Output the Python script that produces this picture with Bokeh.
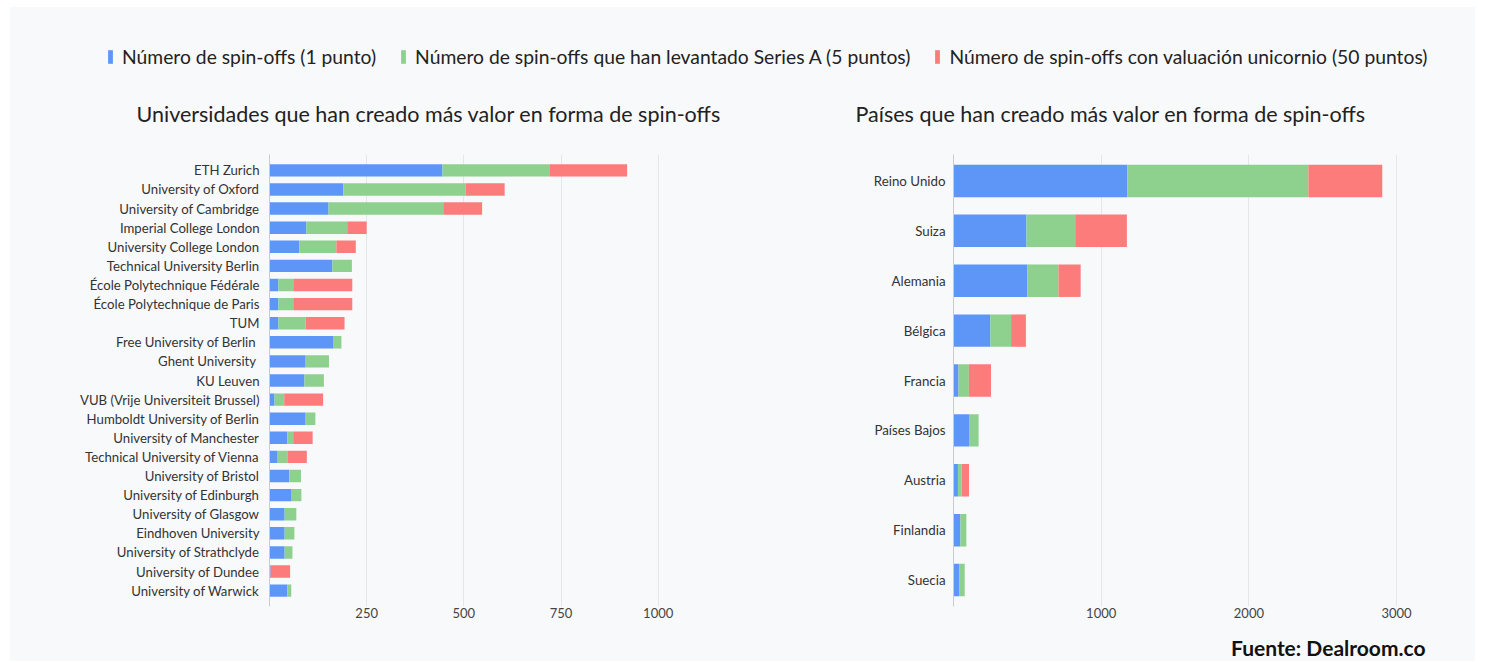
from bokeh.plotting import figure
from bokeh.models import (ColumnDataSource, FactorRange, Range1d, FixedTicker, Label,
                          Legend, LegendItem)
from bokeh.layouts import column, row
from bokeh.embed import file_html
from bokeh.resources import INLINE

# ---------------- data ----------------
series_labels = ["Número de spin-offs (1 punto)",
                 "Número de spin-offs que han levantado Series A (5 puntos)",
                 "Número de spin-offs con valuación unicornio (50 puntos)"]

unis = ["ETH Zurich", "University of Oxford", "University of Cambridge",
        "Imperial College London", "University College London",
        "Technical University Berlin", "École Polytechnique Fédérale",
        "École Polytechnique de Paris", "TUM", "Free University of Berlin ",
        "Ghent University ", "KU Leuven", "VUB (Vrije Universiteit Brussel)",
        "Humboldt University of Berlin", "University of Manchester",
        "Technical University of Vienna", "University of Bristol",
        "University of Edinburgh", "University of Glasgow", "Eindhoven University",
        "University of Strathclyde", "University of Dundee", "University of Warwick"]
uni_spinoffs = [445, 190, 152, 95, 77, 162, 23, 23, 23, 165, 93, 90, 13, 93, 46, 21,
                51, 57, 39, 39, 39, 3, 46]
uni_series_a = [275, 315, 295, 105, 95, 50, 40, 40, 70, 20, 60, 50, 25, 25, 15, 25,
                30, 25, 30, 25, 20, 0, 10]
uni_unicorn = [200, 100, 100, 50, 50, 0, 150, 150, 100, 0, 0, 0, 100, 0, 50, 50,
               0, 0, 0, 0, 0, 50, 0]

countries = ["Reino Unido", "Suiza", "Alemania", "Bélgica", "Francia",
             "Países Bajos", "Austria", "Finlandia", "Suecia"]
c_spinoffs = [1178, 494, 501, 250, 34, 105, 30, 47, 41]
c_series_a = [1225, 330, 210, 140, 70, 65, 25, 40, 35]
c_unicorn = [500, 350, 150, 100, 150, 0, 50, 0, 0]

uni_ticks = [250, 500, 750, 1000]
country_ticks = [1000, 2000, 3000]

title_left = "Universidades que han creado más valor en forma de spin-offs"
title_right = "Países que han creado más valor en forma de spin-offs"
source_text = "Fuente: Dealroom.co"

# ---------------- style ----------------
BG = "#f8f9fb"
COLORS = ["#5e96f8", "#8ed08e", "#fc7b7b"]
FONT = "Lato"
GRID = "#e4e6ea"

def base_fig(p):
    p.background_fill_color = BG
    p.border_fill_color = BG
    p.outline_line_color = None
    p.styles = {"background-color": BG}

def style_chart(p, ticks, label_size, standoff):
    base_fig(p)
    p.ygrid.grid_line_color = None
    p.xgrid.grid_line_color = GRID
    p.xaxis.ticker = FixedTicker(ticks=ticks)
    p.xaxis.axis_line_color = None
    p.xaxis.major_tick_line_color = None
    p.xaxis.minor_tick_line_color = None
    p.xaxis.major_tick_out = 0
    p.xaxis.major_label_standoff = 1
    p.xaxis.major_label_text_font = FONT
    p.xaxis.major_label_text_font_size = "13px"
    p.xaxis.major_label_text_color = "#444444"
    p.yaxis.axis_line_color = "#c9cbcf"
    p.yaxis.major_tick_line_color = None
    p.yaxis.major_tick_out = 0
    p.yaxis.minor_tick_line_color = None
    p.yaxis.major_label_standoff = standoff
    p.yaxis.major_label_text_font = FONT
    p.yaxis.major_label_text_font_size = label_size
    p.yaxis.major_label_text_color = "#333333"

# ---------------- header (legend + titles) ----------------
header = figure(width=1465, height=136, x_range=Range1d(0, 1465), y_range=Range1d(0, 136),
                x_axis_type=None, y_axis_type=None, toolbar_location=None,
                output_backend="svg", min_border=0)
base_fig(header)
header.xgrid.grid_line_color = None
header.ygrid.grid_line_color = None

items = []
nan = float("nan")
for lab, col in zip(series_labels, COLORS):
    r = header.rect(x=[nan], y=[nan], width=1, height=1, fill_color=col, line_color=None)
    items.append(LegendItem(label=lab, renderers=[r]))
legend = Legend(items=items, orientation="horizontal", location=(97, 75),
                glyph_width=6, glyph_height=17, label_standoff=9, spacing=24,
                padding=0, margin=0, border_line_color=None, background_fill_alpha=0,
                label_text_font=FONT, label_text_font_size="19.3px",
                label_text_color="#222222")
header.add_layout(legend, "center")

for txt, x in [(title_left, 126), (title_right, 845)]:
    header.add_layout(Label(x=x, y=30, x_units="screen", y_units="screen", text=txt,
                            text_font=FONT, text_font_size="21.5px", text_color="#222222",
                            text_baseline="middle", text_align="left"))

# ---------------- left chart ----------------
src_u = ColumnDataSource(dict(cat=unis, a=uni_spinoffs, b=uni_series_a, c=uni_unicorn))
left = figure(width=750, height=490, toolbar_location=None, output_backend="svg",
              x_range=Range1d(0, 1150),
              y_range=FactorRange(factors=list(reversed(unis)), range_padding=0.33,
                                  range_padding_units="absolute"),
              min_border_left=259, min_border_right=44, min_border_top=6,
              min_border_bottom=27)
left.hbar_stack(["a", "b", "c"], y="cat", height=0.65, color=COLORS, source=src_u,
                line_color=None)
style_chart(left, uni_ticks, "13.2px", 10)

# ---------------- right chart ----------------
src_c = ColumnDataSource(dict(cat=countries, a=c_spinoffs, b=c_series_a, c=c_unicorn))
right = figure(width=715, height=490, toolbar_location=None, output_backend="svg",
               x_range=Range1d(0, 3250),
               y_range=FactorRange(factors=list(reversed(countries)), range_padding=0.03,
                                   range_padding_units="absolute"),
               min_border_left=193, min_border_right=42, min_border_top=11,
               min_border_bottom=21)
right.hbar_stack(["a", "b", "c"], y="cat", height=0.65, color=COLORS, source=src_c,
                 line_color=None)
style_chart(right, country_ticks, "13.3px", 8)

# ---------------- footer ----------------
footer = figure(width=1465, height=28, x_range=Range1d(0, 1465), y_range=Range1d(0, 28),
                x_axis_type=None, y_axis_type=None, toolbar_location=None,
                output_backend="svg", min_border=0)
base_fig(footer)
footer.xgrid.grid_line_color = None
footer.ygrid.grid_line_color = None
footer.add_layout(Label(x=1415, y=14, x_units="screen", y_units="screen", text=source_text,
                        text_font=FONT, text_font_size="21px", text_font_style="bold",
                        text_color="#111111", text_align="right", text_baseline="middle"))

charts = row(left, right, spacing=0)
charts.styles = {"background-color": BG}
layout = column(header, charts, footer, spacing=0)
layout.styles = {"background-color": BG}
layout.margin = (7, 0, 0, 10)
open("out.html", "w").write(file_html(layout, INLINE))
